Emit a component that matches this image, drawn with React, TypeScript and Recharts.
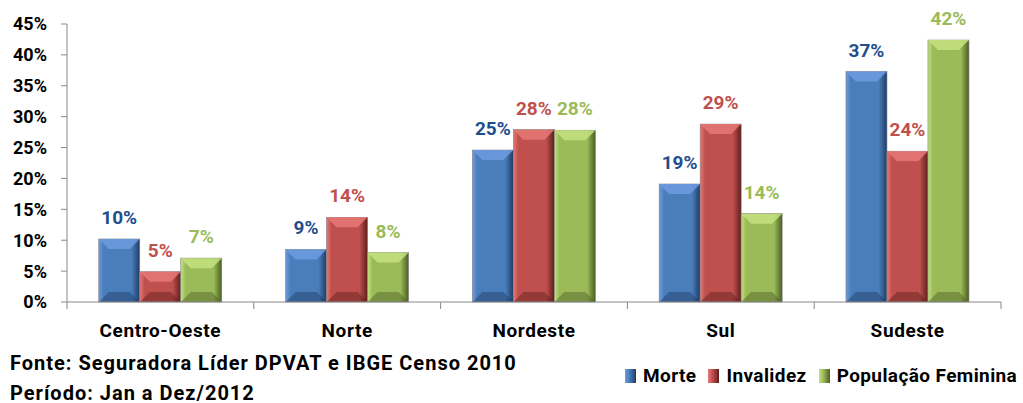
import React from 'react';
import { BarChart, Bar, XAxis, YAxis, LabelList } from 'recharts';

const regions = ['Centro-Oeste', 'Norte', 'Nordeste', 'Sul', 'Sudeste'];
const morte = [10.2, 8.5, 24.6, 19.1, 37.3];
const invalidez = [4.9, 13.7, 27.9, 28.8, 24.4];
const populacaoFeminina = [7.1, 8.0, 27.8, 14.3, 42.4];
const yTicks = [0, 5, 10, 15, 20, 25, 30, 35, 40, 45];

const data = regions.map((name, i) => ({
  name,
  morte: morte[i],
  invalidez: invalidez[i],
  populacaoFeminina: populacaoFeminina[i],
}));

const FONT = 'Roboto, sans-serif';

const series = [
  { key: 'morte', label: 'Morte', base: '#4a7ebb', light: '#6f9be0', dark: '#1f3c66', text: '#1f4e8c' },
  { key: 'invalidez', label: 'Invalidez', base: '#c0504d', light: '#e57875', dark: '#5e1e1c', text: '#c0504d' },
  { key: 'populacaoFeminina', label: 'População Feminina', base: '#9bbb59', light: '#c4e27f', dark: '#4b5e24', text: '#9bbb59' },
];

const BevelBar = (props: any) => {
  const { x, y, width, height, sid } = props;
  if (!height || height <= 0) return null;
  const s = series.find((d) => d.key === sid)!;
  const b = Math.min(10, height / 2, width / 4);
  return (
    <g>
      <rect x={x} y={y} width={width} height={height} fill={`url(#grad-${sid})`} stroke="#7f7f7f" strokeWidth={0.6} />
      <polygon
        points={`${x},${y} ${x + width},${y} ${x + width - b},${y + b} ${x + b},${y + b}`}
        fill={s.light}
        opacity={0.85}
      />
      <polygon
        points={`${x},${y + height} ${x + width},${y + height} ${x + width - b},${y + height - b} ${x + b},${y + height - b}`}
        fill={s.dark}
        opacity={0.45}
      />
    </g>
  );
};

const CategoryTick = (props: any) => {
  const { x, y, payload, index, visibleTicksCount } = props;
  const half = payload && payload.offset ? payload.offset : 93.5;
  const last = index === (visibleTicksCount ?? regions.length) - 1;
  return (
    <g>
      <line x1={x - half} x2={x - half} y1={y - 7} y2={y} stroke="#888" />
      {last && <line x1={x + half} x2={x + half} y1={y - 7} y2={y} stroke="#888" />}
      <text
        x={x}
        y={y + 28}
        textAnchor="middle"
        fontFamily={FONT}
        fontWeight="bold"
        fontSize={19}
        fill="#000"
        style={{ letterSpacing: 0.6 }}
      >
        {payload.value}
      </text>
    </g>
  );
};

const App: React.FC = () => {
  return (
    <div style={{ position: 'absolute', left: 0, top: 0, width: 1023, height: 403, background: '#fff', fontFamily: FONT }}>
      <BarChart
        width={1023}
        height={403}
        data={data}
        margin={{ top: 24, right: 22, left: 0, bottom: 61 }}
        barCategoryGap="17%"
        barGap={0}
      >
        <defs>
          {series.map((s) => (
            <linearGradient key={s.key} id={`grad-${s.key}`} x1="0" y1="0" x2="1" y2="0">
              <stop offset="0%" stopColor={s.light} />
              <stop offset="12%" stopColor={s.base} />
              <stop offset="80%" stopColor={s.base} />
              <stop offset="100%" stopColor={s.dark} />
            </linearGradient>
          ))}
        </defs>
        <XAxis
          dataKey="name"
          height={40}
          axisLine={{ stroke: '#888' }}
          tickLine={false}
          tickSize={7}
          tickMargin={0}
          interval={0}
          tick={<CategoryTick />}
        />
        <YAxis
          width={67}
          domain={[0, 45]}
          ticks={yTicks}
          interval={0}
          axisLine={{ stroke: '#888' }}
          tickLine={{ stroke: '#888' }}
          tickSize={6}
          tickMargin={14}
          tickFormatter={(v: number) => `${v}%`}
          tick={{ fontFamily: FONT, fontWeight: 'bold', fontSize: 18, fill: '#000' }}
        />
        {series.map((s) => (
          <Bar
            key={s.key}
            dataKey={s.key}
            name={s.label}
            isAnimationActive={false}
            shape={(p: any) => <BevelBar {...p} sid={s.key} />}
          >
            <LabelList
              dataKey={s.key}
              position="top"
              offset={15}
              formatter={(v: any) => `${Math.round(Number(v))}%`}
              style={{ fontFamily: FONT, fontWeight: 'bold', fontSize: 19, fill: s.text }}
            />
          </Bar>
        ))}
      </BarChart>

      <div
        style={{
          position: 'absolute',
          left: 10,
          top: 348,
          fontSize: 20,
          letterSpacing: 1,
          fontWeight: 'bold',
          color: '#000',
          lineHeight: '30px',
        }}
      >
        <div>Fonte: Seguradora Líder DPVAT e IBGE Censo 2010</div>
        <div>Período: Jan a Dez/2012</div>
      </div>

      <div
        style={{
          position: 'absolute',
          left: 625,
          top: 364,
          display: 'flex',
          alignItems: 'center',
          fontSize: 19,
          letterSpacing: 0.4,
          fontWeight: 'bold',
          color: '#000',
          whiteSpace: 'nowrap',
        }}
      >
        {series.map((s, i) => (
          <div key={s.key} style={{ display: 'flex', alignItems: 'center', marginRight: i < series.length - 1 ? 12 : 0 }}>
            <span
              style={{
                display: 'inline-block',
                width: 11,
                height: 14,
                marginRight: 7,
                background: `linear-gradient(to right, ${s.light}, ${s.base} 40%, ${s.dark})`,
              }}
            />
            {s.label}
          </div>
        ))}
      </div>
    </div>
  );
};

export default App;
